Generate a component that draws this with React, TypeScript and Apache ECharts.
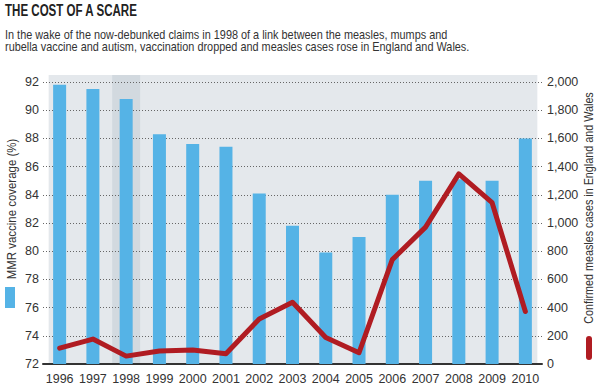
import React, { useEffect, useRef } from "react";
import * as echarts from "echarts";

const years = ["1996", "1997", "1998", "1999", "2000", "2001", "2002", "2003", "2004", "2005", "2006", "2007", "2008", "2009", "2010"];
const mmrCoverage = [91.8, 91.5, 90.8, 88.3, 87.6, 87.4, 84.1, 81.8, 79.9, 81.0, 84.0, 85.0, 85.1, 85.0, 88.0];
const measlesCases = [112, 177, 56, 92, 100, 72, 319, 438, 188, 80, 740, 971, 1348, 1144, 372];
const leftTicks = { min: 72, max: 92, interval: 2 };
const rightTicks = { min: 0, max: 2000, interval: 200 };
const highlightYear = "1998";

const title = "THE COST OF A SCARE";
const subtitle =
  "In the wake of the now-debunked claims in 1998 of a link between the measles, mumps and\nrubella vaccine and autism, vaccination dropped and measles cases rose in England and Wales.";
const leftName = "MMR vaccine coverage (%)";
const rightName = "Confirmed measles cases in England and Wales";

const FONT = '"Liberation Sans", Arial, sans-serif';
const BLUE = "#55b3e6";
const RED = "#b01c22";

export default function App() {
  const ref = useRef<HTMLDivElement>(null);
  useEffect(() => {
    if (!ref.current) return;
    const chart = echarts.init(ref.current, null, { renderer: "svg" });
    const gridTop = 82;
    const gridBottom = 27;
    chart.setOption({
      animation: false,
      backgroundColor: "#ffffff",
      grid: { left: 43, right: 58, top: gridTop, bottom: gridBottom },
      xAxis: {
        type: "category",
        data: years,
        axisLine: { lineStyle: { color: "#333", width: 2 } },
        axisTick: { alignWithLabel: true, length: 5, lineStyle: { color: "#333" } },
        axisLabel: { fontFamily: FONT, fontSize: 12.5, color: "#333", margin: 8, interval: 0 },
      },
      yAxis: [
        {
          type: "value",
          ...leftTicks,
          axisLine: { show: false },
          axisTick: { show: false },
          splitLine: { lineStyle: { type: [1, 2], color: "#666", width: 1 } },
          axisLabel: { fontFamily: FONT, fontSize: 12.5, color: "#333", margin: 4 },
        },
        {
          type: "value",
          position: "right",
          ...rightTicks,
          axisLine: { show: false },
          axisTick: { show: false },
          splitLine: { show: false },
          axisLabel: {
            fontFamily: FONT,
            fontSize: 12.5,
            color: "#333",
            margin: 5,
            formatter: (v: number) => v.toLocaleString("en-US"),
          },
        },
      ],
      series: [
        {
          type: "bar",
          data: mmrCoverage,
          yAxisIndex: 0,
          barWidth: 13,
          itemStyle: { color: BLUE },
          z: 2,
        },
        {
          type: "line",
          data: measlesCases,
          yAxisIndex: 1,
          symbol: "none",
          lineStyle: { color: RED, width: 5, cap: "round", join: "round" },
          z: 3,
        },
      ],
    });

    const x0 = chart.convertToPixel({ xAxisIndex: 0 }, years[0]) as number;
    const x1 = chart.convertToPixel({ xAxisIndex: 0 }, years[1]) as number;
    const xLast = chart.convertToPixel({ xAxisIndex: 0 }, years[years.length - 1]) as number;
    const xh = chart.convertToPixel({ xAxisIndex: 0 }, highlightYear) as number;
    const yBottom = chart.convertToPixel({ yAxisIndex: 0 }, leftTicks.min) as number;
    const step = x1 - x0;
    const bgTop = 75;
    const bgLeft = x0 - step * 0.33;
    const bgRight = xLast + step * 0.36;

    chart.setOption({
      graphic: [
        {
          type: "rect",
          z: -10,
          shape: { x: bgLeft, y: bgTop, width: bgRight - bgLeft, height: yBottom - bgTop },
          style: { fill: "#e4e8ec" },
        },
        {
          type: "rect",
          z: -9,
          shape: { x: xh - step * 0.42, y: bgTop, width: step * 0.84, height: yBottom - bgTop },
          style: { fill: "#d2d9df" },
        },
        {
          type: "text",
          x: 5,
          y: 2,
          scaleX: 0.68,
          style: { text: title, fontFamily: FONT, fontWeight: "bold", fontSize: 17, fill: "#222" },
        },
        {
          type: "text",
          x: 5,
          y: 28,
          scaleX: 0.838,
          style: { text: subtitle, fontFamily: FONT, fontSize: 13, lineHeight: 12.5, fill: "#333" },
        },
        {
          type: "text",
          x: 12,
          y: 209,
          rotation: Math.PI / 2,
          scaleX: 0.88,
          style: {
            text: leftName,
            fontFamily: FONT,
            fontSize: 13,
            fill: "#333",
            align: "center",
            verticalAlign: "middle",
          },
        },
        {
          type: "rect",
          shape: { x: 5, y: 287, width: 10, height: 21 },
          style: { fill: BLUE },
        },
        {
          type: "text",
          x: 589,
          y: 208,
          rotation: Math.PI / 2,
          scaleX: 0.83,
          style: {
            text: rightName,
            fontFamily: FONT,
            fontSize: 13,
            fill: "#333",
            align: "center",
            verticalAlign: "middle",
          },
        },
        {
          type: "rect",
          shape: { x: 586, y: 336, width: 6, height: 24, r: 3 },
          style: { fill: RED },
        },
      ],
    });
    return () => chart.dispose();
  }, []);
  return <div ref={ref} style={{ width: 600, height: 391, position: "absolute", left: 0, top: 0 }} />;
}
